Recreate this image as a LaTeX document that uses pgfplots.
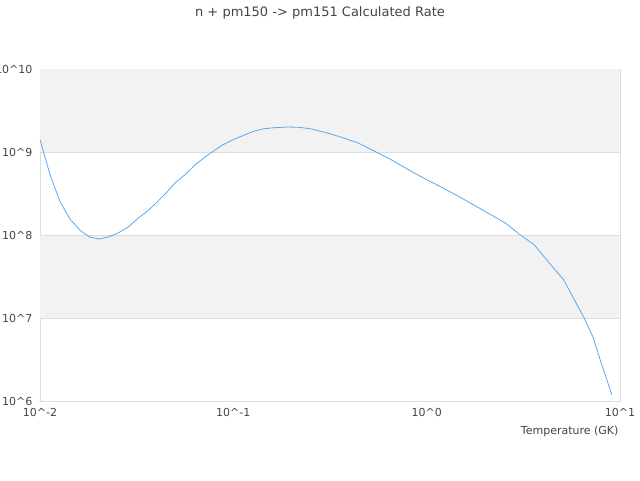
\documentclass[border=0pt]{standalone}
\usepackage{pgfplots}
\pgfplotsset{compat=1.18}
\usepackage{fontspec}
\setmainfont{DejaVu Sans}
\definecolor{rateblue}{HTML}{5CA8F0}
\definecolor{band}{HTML}{F2F2F2}
\definecolor{gridgray}{HTML}{DDDDDD}
\definecolor{txt}{HTML}{444444}
\begin{document}
\begin{tikzpicture}
\path[use as bounding box] (0,0) rectangle (640pt,480pt);
\begin{axis}[
  at={(40pt,79pt)}, anchor=south west,
  scale only axis,
  width=580pt, height=332pt,
  xmode=log, ymode=log,
  xmin=0.01, xmax=10,
  ymin=1e6, ymax=1e10,
  xtick={0.01,0.1,1,10},
  xticklabels={10\textasciicircum-2,10\textasciicircum-1,10\textasciicircum0,10\textasciicircum1},
  ytick={1e6,1e7,1e8,1e9,1e10},
  yticklabels={10\textasciicircum6,10\textasciicircum7,10\textasciicircum8,10\textasciicircum9,10\textasciicircum10},
  xminorticks=false, yminorticks=false,
  major tick length=0pt, minor tick length=0pt,
  axis line style={gridgray, line width=0.8pt},
  tick label style={font=\fontsize{11}{13}\selectfont, text=txt},
  xticklabel style={yshift=-4pt},
  yticklabel style={xshift=-4pt},
  title={n + pm150 -> pm151 Calculated Rate},
  title style={font=\fontsize{13}{15}\selectfont, text=txt, at={(rel axis cs:0.5,1)}, anchor=center, xshift=-10pt, yshift=50pt},
  xlabel={Temperature (GK)},
  xlabel style={font=\fontsize{11}{13}\selectfont, text=txt, at={(rel axis cs:1,0)}, anchor=east, xshift=2pt, yshift=-30pt},
]
% alternating bands, then the horizontal grid
\fill[band] (rel axis cs:0,0.75) rectangle (rel axis cs:1,1);
\fill[band] (rel axis cs:0,0.25) rectangle (rel axis cs:1,0.5);
\draw[gridgray, line width=0.8pt] (rel axis cs:0,0.25) -- (rel axis cs:1,0.25);
\draw[gridgray, line width=0.8pt] (rel axis cs:0,0.5) -- (rel axis cs:1,0.5);
\draw[gridgray, line width=0.8pt] (rel axis cs:0,0.75) -- (rel axis cs:1,0.75);
\addplot[rateblue, line width=0.8pt] coordinates {
  (0.0100,1.41e9)
  (0.01127,5.3e8)
  (0.01268,2.54e8)
  (0.01429,1.56e8)
  (0.01611,1.14e8)
  (0.01799,9.47e7)
  (0.02028,8.95e7)
  (0.02301,9.6e7)
  (0.02541,1.06e8)
  (0.02864,1.25e8)
  (0.03228,1.6e8)
  (0.03631,1.98e8)
  (0.04018,2.47e8)
  (0.04519,3.26e8)
  (0.04989,4.23e8)
  (0.05623,5.33e8)
  (0.06412,7.16e8)
  (0.07278,9.0e8)
  (0.0881,1.22e9)
  (0.1000,1.41e9)
  (0.1148,1.61e9)
  (0.1268,1.77e9)
  (0.1429,1.9e9)
  (0.1611,1.96e9)
  (0.1923,2.0e9)
  (0.2213,1.98e9)
  (0.2547,1.89e9)
  (0.3162,1.66e9)
  (0.3707,1.48e9)
  (0.4436,1.28e9)
  (0.5297,1.04e9)
  (0.6457,8.24e8)
  (0.8035,6.12e8)
  (1.000,4.64e8)
  (1.245,3.58e8)
  (1.549,2.71e8)
  (1.963,1.98e8)
  (2.547,1.40e8)
  (3.041,1.01e8)
  (3.597,7.64e7)
  (4.266,4.73e7)
  (5.105,2.9e7)
  (5.741,1.74e7)
  (6.471,1.04e7)
  (7.228,6.0e6)
  (8.054,2.73e6)
  (9.078,1.19e6)
};
\end{axis}
\end{tikzpicture}
\end{document}
